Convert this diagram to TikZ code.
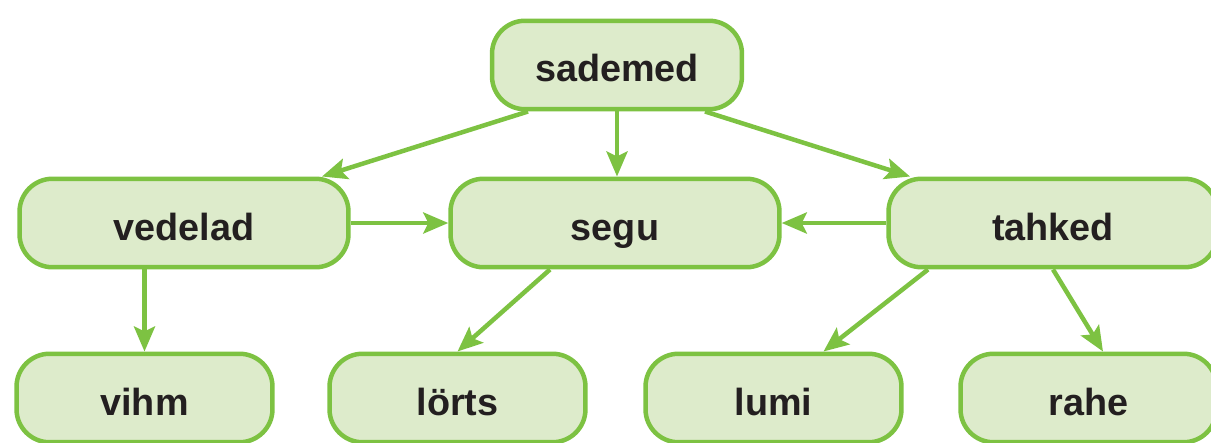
\documentclass[tikz,border=0pt]{standalone}
\usepackage{fontspec}
\setmainfont{Liberation Sans}
\usetikzlibrary{arrows.meta}
\definecolor{boxgreen}{RGB}{125,194,66}
\definecolor{boxfill}{RGB}{221,235,203}
\definecolor{boxtext}{RGB}{35,31,32}

\begin{document}
\begin{tikzpicture}[x = 0.02cm, y = -0.02cm,
   box/.style = {draw = boxgreen, fill = boxfill, line width = 0.09cm, rounded corners = 0.66cm,
      minimum height = 1.77cm, text height = 0.78cm, text depth = 0.1cm, text = boxtext,
      font = \fontsize{21.5}{25}\selectfont\bfseries},
   arr/.style = {draw = boxgreen, line width = 0.09cm,
      -{Stealth[length = 0.5cm, width = 0.42cm, inset = 0.1cm]}}]
\useasboundingbox (0,0) rectangle (1211,443);

% top and middle row
\node[box, minimum width = 5.0cm] (sademed) at (617,65) {sademed};
\node[box, minimum width = 6.58cm] (vedelad) at (184,223) {vedelad};
\node[box, minimum width = 6.58cm] (segu) at (615,223) {segu};
\node[box, minimum width = 6.58cm] (tahked) at (1053,223) {tahked};

% bottom row
\foreach \name/\x/\word in {vihm/144.5/vihm, lorts/457.5/lörts, lumi/773.5/lumi, rahe/1088.5/rahe}
   \node[box, minimum width = 5.12cm] (\name) at (\x,398) {\word};

\draw[arr] ([xshift = -1.78cm]sademed.south) -- ([xshift = 2.76cm]vedelad.north);
\draw[arr] (sademed.south) -- (sademed.south |- segu.north);
\draw[arr] ([xshift = 1.76cm]sademed.south) -- ([xshift = -2.86cm]tahked.north);

\draw[arr] (vedelad.east) -- (segu.west);
\draw[arr] (tahked.west) -- (segu.east);

\draw[arr] (vihm.north |- vedelad.south) -- (vihm.north);
\draw[arr] ([xshift = -1.3cm]segu.south) -- (lorts.north);
\draw[arr] ([xshift = -2.5cm]tahked.south) -- ([xshift = 1cm]lumi.north);
\draw[arr] (tahked.south) -- ([xshift = 0.29cm]rahe.north);
\end{tikzpicture}
\end{document}
